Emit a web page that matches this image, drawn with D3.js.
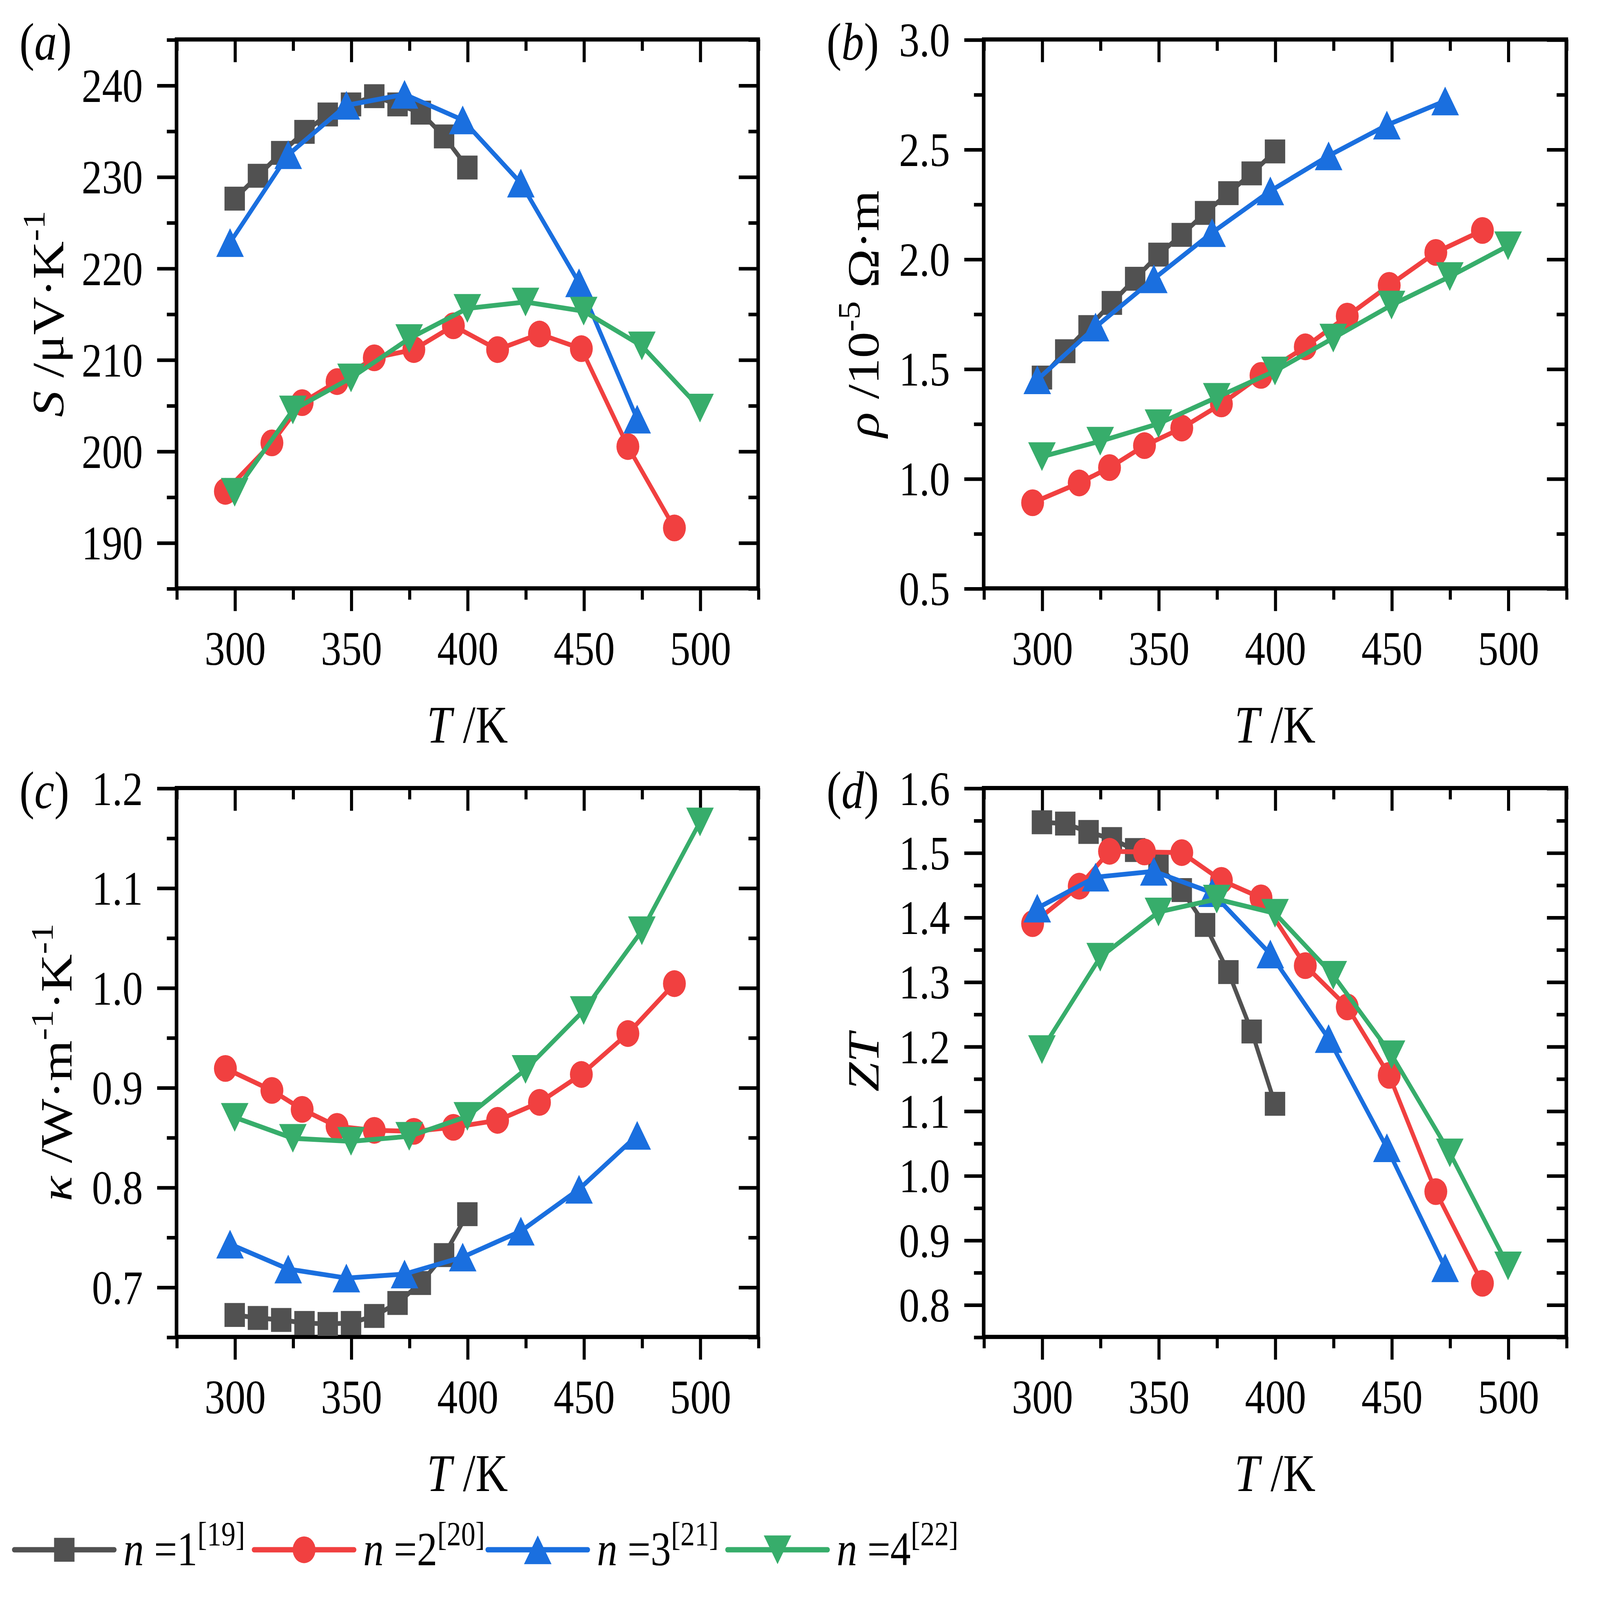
<!DOCTYPE html>
<html>
<head>
<meta charset="utf-8">
<script src="https://cdn.jsdelivr.net/npm/d3@7"></script>
<style>
  html, body { margin: 0; padding: 0; background: #fff; overflow: hidden; }
  svg { display: block; width: 100vw; height: 100vh; }
</style>
</head>
<body>
<div id="chart"></div>
<script>
// Temperatures (K) of each sample.
var T_n1 = [300, 310, 320, 330, 340, 350, 360, 370, 380, 390, 400];
var T_n2 = [296, 316, 329, 344, 360, 377, 394, 413, 431, 449, 469, 489];
var T_n3 = [298, 323, 348, 373, 398, 423, 448, 473];
var T_n4 = [300, 325, 350, 375, 400, 425, 450, 475, 500];

// (a) Seebeck coefficient, uV/K
var S_n1 = [227.6, 230.1, 232.6, 234.9, 236.8, 237.9, 238.8, 237.9, 237.0, 234.4, 231.0];
var S_n2 = [195.6, 200.9, 205.3, 207.6, 210.2, 211.1, 213.7, 211.1, 212.8, 211.2, 200.5, 191.6];
var S_n3 = [222.8, 232.4, 237.8, 239.0, 236.2, 229.3, 218.4, 203.5];
var S_n4 = [195.5, 204.5, 208.0, 212.3, 215.6, 216.3, 215.3, 211.5, 204.7];

// (b) resistivity, 1e-5 Ohm m
var rho_n1 = [1.46, 1.58, 1.69, 1.80, 1.91, 2.02, 2.11, 2.21, 2.30, 2.39, 2.49];
var rho_n2 = [0.89, 0.98, 1.05, 1.15, 1.23, 1.34, 1.47, 1.60, 1.74, 1.88, 2.03, 2.13];
var rho_n3 = [1.45, 1.69, 1.91, 2.12, 2.31, 2.47, 2.61, 2.72];
var rho_n4 = [1.10, 1.17, 1.25, 1.37, 1.49, 1.64, 1.79, 1.92, 2.06];

// (c) thermal conductivity, W/(m K)
var kappa_n1 = [0.672, 0.669, 0.667, 0.664, 0.663, 0.664, 0.671, 0.684, 0.704, 0.732, 0.773];
var kappa_n2 = [0.919, 0.897, 0.878, 0.861, 0.857, 0.856, 0.860, 0.867, 0.885, 0.913, 0.954, 1.004];
var kappa_n3 = [0.743, 0.718, 0.709, 0.713, 0.730, 0.756, 0.798, 0.852];
var kappa_n4 = [0.870, 0.849, 0.846, 0.851, 0.871, 0.918, 0.977, 1.057, 1.166];

// (d) figure of merit ZT
var zt_n1 = [1.547, 1.545, 1.532, 1.521, 1.504, 1.480, 1.442, 1.388, 1.315, 1.223, 1.111];
var zt_n2 = [1.390, 1.448, 1.502, 1.501, 1.500, 1.457, 1.430, 1.325, 1.261, 1.155, 0.975, 0.833];
var zt_n3 = [1.414, 1.462, 1.471, 1.438, 1.343, 1.212, 1.043, 0.857];
var zt_n4 = [1.195, 1.338, 1.408, 1.428, 1.406, 1.310, 1.187, 1.035, 0.860];

// Tick values.
var xMajor = [300, 350, 400, 450, 500];
var xMinor = [275, 325, 375, 425, 475, 525];
var S_major = [190, 200, 210, 220, 230, 240];
var S_minor = [185, 195, 205, 215, 225, 235, 245];
var rho_major = [0.5, 1.0, 1.5, 2.0, 2.5, 3.0];
var rho_minor = [0.75, 1.25, 1.75, 2.25, 2.75];
var kappa_major = [0.7, 0.8, 0.9, 1.0, 1.1, 1.2];
var kappa_minor = [0.65, 0.75, 0.85, 0.95, 1.05, 1.15];
var zt_major = [0.8, 0.9, 1.0, 1.1, 1.2, 1.3, 1.4, 1.5, 1.6];
var zt_minor = [0.75, 0.85, 0.95, 1.05, 1.15, 1.25, 1.35, 1.45, 1.55];

// Legend entries.
var legendNames = ['1', '2', '3', '4'];
var legendRefs = ['[19]', '[20]', '[21]', '[22]'];

var temps = [T_n1, T_n2, T_n3, T_n4];
var colors = ['#515151', '#F14040', '#1A6FDF', '#37AD6B'];
var shapes = ['square', 'circle', 'up', 'down'];

var FONT = '"Liberation Serif", "Times New Roman", serif';

// The drawing is laid out in a 1568 x 1338 box stretched over the whole window.
var svg = d3.select('#chart')
    .append('svg')
        .attr('viewBox', '0 0 1568 1338')
        .attr('preserveAspectRatio', 'none')
        .style('font-family', FONT);

// Writes a list of text parts (italic / superscript) into a text element.
function richText(textSel, parts, fs) {
    var raised = false;
    parts.forEach(function(p){
        var t = textSel.append('tspan').text(p.t);
        if (p.i) t.attr('font-style', 'italic');
        if (p.sup) {
            t.attr('font-size', fs * 0.7).attr('dy', raised ? 0 : -fs * 0.42);
            raised = true;
        } else if (raised) {
            t.attr('dy', fs * 0.42);
            raised = false;
        }
    });
}

// Draws one marker symbol centred on (cx, cy).
function marker(g, shape, color, cx, cy) {
    if (shape === 'square') {
        g.append('rect').attr('x', cx - 10).attr('y', cy - 10)
            .attr('width', 20).attr('height', 20).attr('fill', color);
    } else if (shape === 'circle') {
        g.append('circle').attr('cx', cx).attr('cy', cy).attr('r', 11.2).attr('fill', color);
    } else {
        var w = 13.5, h = 12, s = shape === 'up' ? 1 : -1;
        g.append('path')
            .attr('d', 'M' + cx + ',' + (cy - s * h) + 'L' + (cx + w) + ',' + (cy + s * h) +
                'L' + (cx - w) + ',' + (cy + s * h) + 'Z')
            .attr('fill', color);
    }
}

var panels = [
    {box: [173, 743, 33, 492], ydom: [185, 245], major: S_major, minor: S_minor, fmt: d3.format('d'),
     data: [S_n1, S_n2, S_n3, S_n4], label: 'a', titleX: 62,
     title: [{t: 'S', i: true}, {t: ' /\u03bcV\u00b7K'}, {t: '-1', sup: true}]},
    {box: [964, 1535, 33, 492], ydom: [0.5, 3.0], major: rho_major, minor: rho_minor, fmt: d3.format('.1f'),
     data: [rho_n1, rho_n2, rho_n3, rho_n4], label: 'b', titleX: 861,
     title: [{t: '\u03c1', i: true}, {t: ' /10'}, {t: '-5', sup: true}, {t: ' \u03a9\u00b7m'}]},
    {box: [173, 743, 659, 1118], ydom: [0.65, 1.2], major: kappa_major, minor: kappa_minor, fmt: d3.format('.1f'),
     data: [kappa_n1, kappa_n2, kappa_n3, kappa_n4], label: 'c', titleX: 70,
     title: [{t: '\u03ba', i: true}, {t: ' /W\u00b7m'}, {t: '-1', sup: true}, {t: '\u00b7K'}, {t: '-1', sup: true}]},
    {box: [964, 1535, 659, 1118], ydom: [0.75, 1.6], major: zt_major, minor: zt_minor, fmt: d3.format('.1f'),
     data: [zt_n1, zt_n2, zt_n3, zt_n4], label: 'd', titleX: 861,
     title: [{t: 'ZT', i: true}]}
];

panels.forEach(function(p){
    var x0 = p.box[0], x1 = p.box[1], y0 = p.box[2], y1 = p.box[3];
    var x = d3.scaleLinear().domain([275, 525]).range([x0, x1]);
    var y = d3.scaleLinear().domain(p.ydom).range([y1, y0]);
    var g = svg.append('g');

    function styleAxis(a) {
        a.select('.domain').remove();
        a.selectAll('line').attr('stroke', '#000').attr('stroke-width', 3);
        a.attr('font-family', FONT).attr('font-size', 40);
        a.selectAll('text').attr('fill', '#000');
    }

    // Bottom axis with labels, plus minor ticks.
    g.append('g').attr('transform', 'translate(0,' + y1 + ')')
        .call(d3.axisBottom(x).tickValues(xMajor).tickSize(19).tickFormat(d3.format('d')))
        .call(styleAxis)
        .selectAll('text').attr('y', 64).attr('dy', null);
    g.append('g').attr('transform', 'translate(0,' + y1 + ')')
        .call(d3.axisBottom(x).tickValues(xMinor).tickSize(9.5).tickFormat(''))
        .call(styleAxis);

    // Top axis, inward ticks.
    g.append('g').attr('transform', 'translate(0,' + y0 + ')')
        .call(d3.axisTop(x).tickValues(xMajor).tickSizeInner(-19).tickSizeOuter(0).tickFormat(''))
        .call(styleAxis);
    g.append('g').attr('transform', 'translate(0,' + y0 + ')')
        .call(d3.axisTop(x).tickValues(xMinor).tickSizeInner(-9.5).tickSizeOuter(0).tickFormat(''))
        .call(styleAxis);

    // Left axis with labels, plus minor ticks.
    g.append('g').attr('transform', 'translate(' + x0 + ',0)')
        .call(d3.axisLeft(y).tickValues(p.major).tickSize(19).tickPadding(14).tickFormat(p.fmt))
        .call(styleAxis)
        .selectAll('text').attr('dy', '0.34em');
    g.append('g').attr('transform', 'translate(' + x0 + ',0)')
        .call(d3.axisLeft(y).tickValues(p.minor).tickSize(9.5).tickFormat(''))
        .call(styleAxis);

    // Right axis, inward ticks.
    g.append('g').attr('transform', 'translate(' + x1 + ',0)')
        .call(d3.axisRight(y).tickValues(p.major).tickSizeInner(-19).tickSizeOuter(0).tickFormat(''))
        .call(styleAxis);
    g.append('g').attr('transform', 'translate(' + x1 + ',0)')
        .call(d3.axisRight(y).tickValues(p.minor).tickSizeInner(-9.5).tickSizeOuter(0).tickFormat(''))
        .call(styleAxis);

    // Frame.
    g.append('rect')
        .attr('x', x0).attr('y', y0)
        .attr('width', x1 - x0).attr('height', y1 - y0)
        .attr('fill', 'none').attr('stroke', '#000').attr('stroke-width', 3.5);

    // Series: line then markers, in order.
    var line = d3.line()
        .x(function(d){ return x(d[0]); })
        .y(function(d){ return y(d[1]); });
    p.data.forEach(function(vals, k){
        var pts = temps[k].map(function(t, i){ return [t, vals[i]]; });
        g.append('path').datum(pts)
            .attr('d', line)
            .attr('fill', 'none')
            .attr('stroke', colors[k])
            .attr('stroke-width', 4)
            .attr('stroke-linejoin', 'round');
        var mg = g.append('g');
        pts.forEach(function(d){ marker(mg, shapes[k], colors[k], x(d[0]), y(d[1])); });
    });

    // x-axis title.
    var xt = g.append('text')
        .attr('x', (x0 + x1) / 2).attr('y', y1 + 129)
        .attr('text-anchor', 'middle').attr('font-size', 44);
    richText(xt, [{t: 'T', i: true}, {t: ' /K'}], 44);

    // y-axis title.
    var yt = g.append('text')
        .attr('transform', 'translate(' + p.titleX + ',' + ((y0 + y1) / 2) + ') rotate(-90)')
        .attr('text-anchor', 'middle').attr('font-size', 44);
    richText(yt, p.title, 44);

    // Panel letter.
    var pl = g.append('text')
        .attr('x', x0 - 154).attr('y', y0 + 17).attr('font-size', 44);
    richText(pl, [{t: '('}, {t: p.label, i: true}, {t: ')'}], 44);
});

// Legend along the bottom.
var legendX = [14, 249, 478, 713];
var ly = 1296;
legendNames.forEach(function(name, k){
    var lx = legendX[k];
    var lg = svg.append('g');
    lg.append('line')
        .attr('x1', lx).attr('x2', lx + 98).attr('y1', ly).attr('y2', ly)
        .attr('stroke', colors[k]).attr('stroke-width', 4.5).attr('stroke-linecap', 'round');
    marker(lg, shapes[k], colors[k], lx + 49, ly);
    var t = lg.append('text')
        .attr('x', lx + 107).attr('y', ly + 13).attr('font-size', 40);
    richText(t, [{t: 'n', i: true}, {t: ' =' + name}, {t: legendRefs[k], sup: true}], 40);
});
</script>
</body>
</html>
